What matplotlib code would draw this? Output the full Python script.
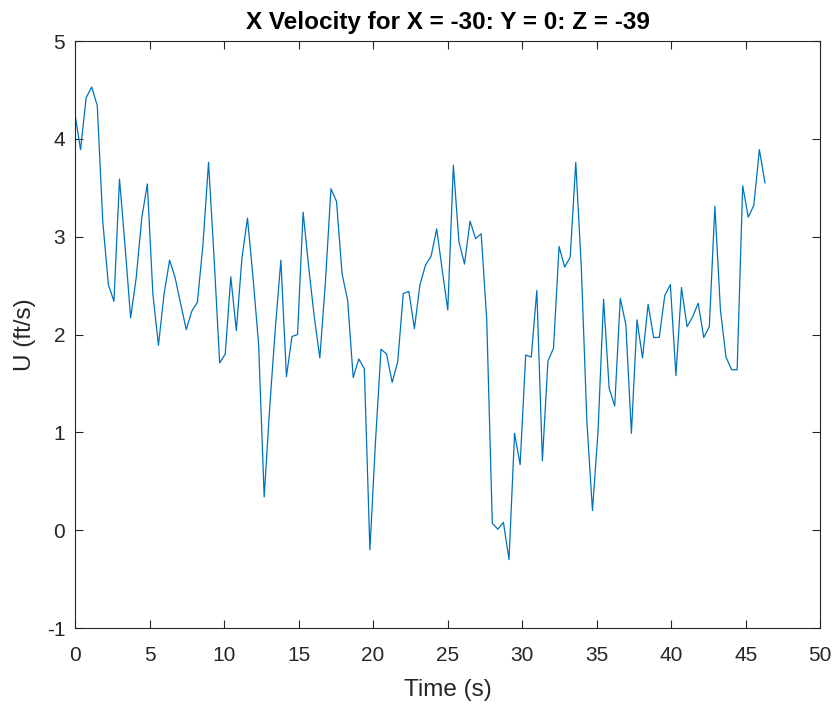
import numpy as np
import matplotlib
matplotlib.use("Agg")
import matplotlib.pyplot as plt

# velocity samples (ft/s)
u_vel = [4.25, 3.89, 4.42, 4.53, 4.34, 3.15, 2.51, 2.34, 3.59, 2.90,
         2.17, 2.58, 3.19, 3.54, 2.41, 1.89, 2.41, 2.76, 2.58, 2.31,
         2.05, 2.24, 2.33, 2.92, 3.76, 2.78, 1.71, 1.80, 2.59, 2.04,
         2.78, 3.19, 2.58, 1.90, 0.34, 1.26, 2.06, 2.76, 1.57, 1.98,
         2.00, 3.25, 2.69, 2.18, 1.76, 2.53, 3.49, 3.36, 2.62, 2.35,
         1.56, 1.75, 1.65, -0.20, 0.90, 1.85, 1.80, 1.51, 1.72, 2.42,
         2.44, 2.06, 2.51, 2.71, 2.80, 3.08, 2.66, 2.25, 3.73, 2.95,
         2.72, 3.16, 2.98, 3.03, 2.15, 0.07, 0.01, 0.08, -0.30, 0.99,
         0.67, 1.79, 1.77, 2.45, 0.71, 1.73, 1.86, 2.90, 2.69, 2.79,
         3.76, 2.68, 1.11, 0.20, 1.01, 2.36, 1.45, 1.27, 2.37, 2.10,
         0.99, 2.15, 1.76, 2.31, 1.97, 1.97, 2.40, 2.51, 1.58, 2.48,
         2.08, 2.18, 2.32, 1.97, 2.08, 3.31, 2.25, 1.77, 1.64, 1.64,
         3.52, 3.20, 3.32, 3.89, 3.55]
dt = 0.3733  # sampling interval (s)
time_s = np.arange(len(u_vel)) * dt

x_ticks = [0, 5, 10, 15, 20, 25, 30, 35, 40, 45, 50]
y_ticks = [-1, 0, 1, 2, 3, 4, 5]

plt.rcParams['font.family'] = ['Liberation Sans', 'DejaVu Sans']
plt.rcParams['axes.unicode_minus'] = False

fig = plt.figure(figsize=(8.37, 7.05), dpi=100)
ax = fig.add_axes([0.0896, 0.1092, 0.8904, 0.8326])

ax.plot(time_s, u_vel, color='#0072BD', linewidth=0.9)

ax.set_xlim(0, 50)
ax.set_ylim(-1, 5)
ax.set_xticks(x_ticks)
ax.set_yticks(y_ticks)

grey = '#262626'
ax.tick_params(direction='in', length=6, width=0.8, top=True, right=True,
               labelsize=15, colors=grey)
ax.tick_params(axis='x', pad=13)
ax.tick_params(axis='y', pad=7)
for s in ax.spines.values():
    s.set_color(grey)
    s.set_linewidth(0.8)

ax.set_xlabel('Time (s)', fontsize=17.5, color=grey, labelpad=10)
ax.set_ylabel('U (ft/s)', fontsize=17.5, color=grey, labelpad=8)
ax.set_title('X Velocity for X = -30: Y = 0: Z = -39', fontsize=17.5,
             fontweight='bold', color='black', pad=9)

fig.savefig('out.png', dpi=100)
